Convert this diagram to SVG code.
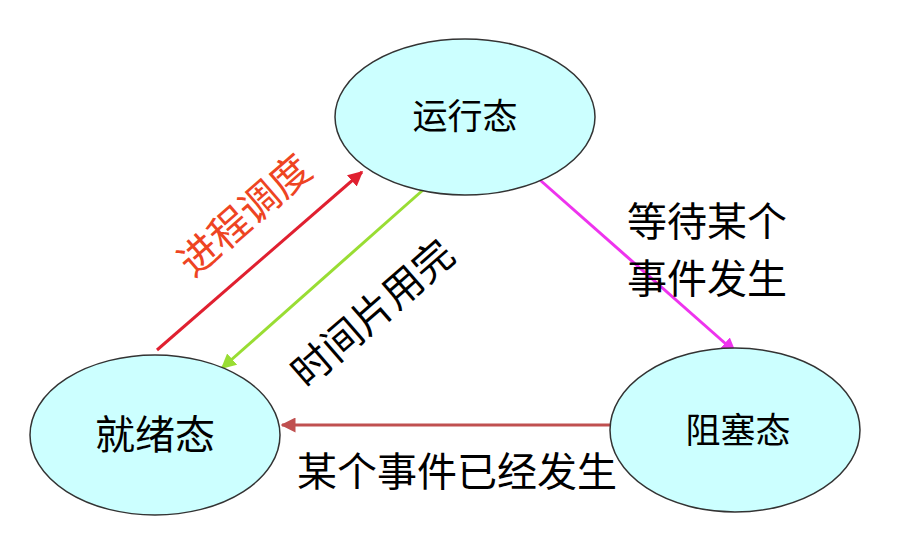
<svg xmlns="http://www.w3.org/2000/svg" width="921" height="534" viewBox="0 0 921 534">
<style>
.n{fill:#ccffff;stroke:#333;stroke-width:1.5}
.t{font-family:"Liberation Sans","Noto Sans CJK SC",sans-serif;fill:#000;text-anchor:middle}
</style>
<defs>
<marker id="ar" viewBox="0 0 10 10" refX="9" refY="5" markerWidth="5" markerHeight="5" orient="auto"><path d="M0,0L10,5L0,10z" fill="#e02030"/></marker>
<marker id="ag" viewBox="0 0 10 10" refX="9" refY="5" markerWidth="5" markerHeight="5" orient="auto"><path d="M0,0L10,5L0,10z" fill="#99dd33"/></marker>
<marker id="am" viewBox="0 0 10 10" refX="9" refY="5" markerWidth="5" markerHeight="5" orient="auto"><path d="M0,0L10,5L0,10z" fill="#ee33ee"/></marker>
<marker id="ab" viewBox="0 0 10 10" refX="9" refY="5" markerWidth="5" markerHeight="5" orient="auto"><path d="M0,0L10,5L0,10z" fill="#c05050"/></marker>
</defs>
<rect width="921" height="534" fill="#fff"/>
<g id="connectors" stroke-width="3" fill="none">
<line x1="157" y1="350" x2="362" y2="172" stroke="#e02030" marker-end="url(#ar)"/>
<line x1="423" y1="190" x2="222" y2="368" stroke="#99dd33" marker-end="url(#ag)"/>
<line x1="540" y1="180" x2="735" y2="352" stroke="#ee33ee" marker-end="url(#am)"/>
<line x1="612" y1="425" x2="282" y2="425" stroke="#c05050" marker-end="url(#ab)"/>
</g>
<g id="run"><ellipse class="n" cx="465" cy="117" rx="130" ry="78"/><text class="t" x="465" y="129" font-size="35">运行态</text></g>
<g id="ready"><ellipse class="n" cx="155" cy="435" rx="125" ry="80"/><text class="t" x="155" y="449" font-size="40">就绪态</text></g>
<g id="block"><ellipse class="n" cx="735" cy="430" rx="125" ry="82"/><text class="t" x="738" y="443" font-size="35">阻塞态</text></g>
<g id="labels">
<text class="t" font-size="40" style="fill:#ee4422" transform="translate(254,226) rotate(-41)">进程调度</text>
<text class="t" font-size="40" transform="translate(382,324) rotate(-41)">时间片用完</text>
<text class="t" font-size="40" x="707" y="236">等待某个</text>
<text class="t" font-size="40" x="707" y="293">事件发生</text>
<text class="t" font-size="40" x="457" y="486">某个事件已经发生</text>
</g>
</svg>
